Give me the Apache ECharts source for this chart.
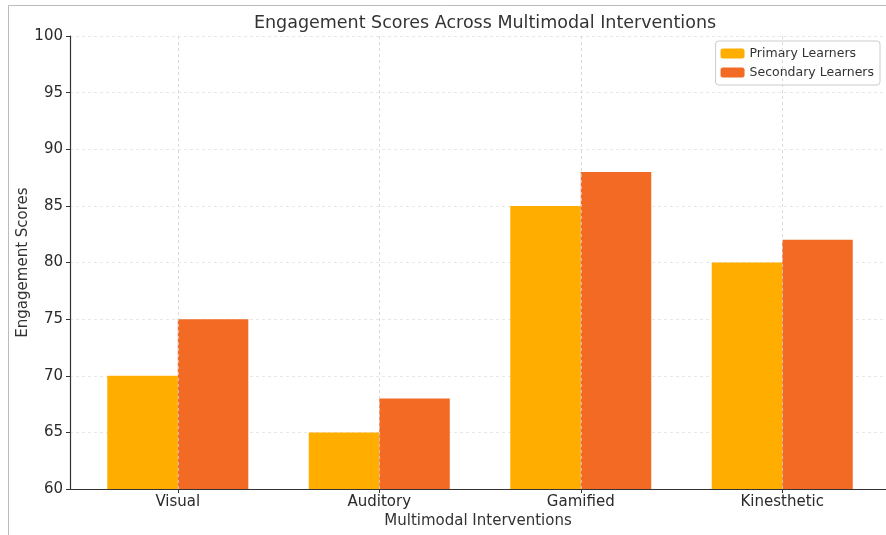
<!DOCTYPE html>
<html><head><meta charset="utf-8">
<script src="https://cdn.jsdelivr.net/npm/echarts@6/dist/echarts.min.js"></script>
<style>html,body{margin:0;padding:0;background:#fff}#c{width:886px;height:535px}</style>
</head><body><div id="c"></div>
<script>
const categories = ['Visual', 'Auditory', 'Gamified', 'Kinesthetic'];
const primaryLearners = [70, 65, 85, 80];
const secondaryLearners = [75, 68, 88, 82];
const yTicks = [60, 65, 70, 75, 80, 85, 90, 95, 100];

const FONT = 'DejaVu Sans';
const BAR_W = 0.35;
const chart = echarts.init(document.getElementById('c'));
const idx = categories.map((_, i) => i);

chart.setOption({
  animation: false,
  textStyle: { fontFamily: FONT },
  title: {
    text: 'Engagement Scores Across Multimodal Interventions',
    left: 480, top: 9, textAlign: 'center',
    textStyle: { fontFamily: FONT, fontSize: 17.5, fontWeight: 'normal', color: '#333' }
  },
  graphic: [{
    type: 'polyline', silent: true,
    shape: { points: [[8.5, 540], [8.5, 5.5], [890, 5.5]] },
    style: { stroke: '#bbb', lineWidth: 1, fill: null }
  }],
  legend: {
    right: 6, top: 41, orient: 'vertical', itemGap: 6,
    itemWidth: 24, itemHeight: 10,
    padding: [6, 6, 6, 5],
    borderColor: '#ccc', borderWidth: 1, borderRadius: 3,
    textStyle: { fontFamily: FONT, fontSize: 12.5, color: '#333' },
    data: ['Primary Learners', 'Secondary Learners']
  },
  grid: { left: 70, right: 0, top: 36, bottom: 46 },
  xAxis: {
    type: 'value', min: -0.535, max: 3.515,
    name: 'Multimodal Interventions', nameLocation: 'middle', nameGap: 25,
    nameMoveOverlap: false,
    nameTextStyle: { fontFamily: FONT, fontSize: 15, color: '#333' },
    axisLine: { show: true, onZero: false, lineStyle: { color: '#333', width: 1.2 } },
    axisTick: { show: true, customValues: idx, length: 4, lineStyle: { color: '#333' } },
    axisLabel: { customValues: idx, formatter: v => categories[Math.round(v)], fontFamily: FONT, fontSize: 15, color: '#2a2a2a', margin: 6 },
    splitLine: { show: false }
  },
  yAxis: {
    type: 'value', min: 60, max: 100, interval: 5,
    name: 'Engagement Scores', nameLocation: 'middle', nameGap: 39,
    nameMoveOverlap: false,
    nameTextStyle: { fontFamily: FONT, fontSize: 15, color: '#333' },
    axisLine: { show: true, onZero: false, lineStyle: { color: '#333', width: 1.2 } },
    axisTick: { show: true, length: 4, lineStyle: { color: '#333' } },
    axisLabel: { fontFamily: FONT, fontSize: 15, color: '#2a2a2a', margin: 7,
      formatter: v => yTicks.includes(v) ? String(v) : '' },
    splitLine: { show: true, lineStyle: { color: '#e2e2e2', type: [3, 3], width: 0.8 } }
  },
  series: [
    {
      name: 'Primary Learners', type: 'bar', barWidth: 70.5, barGap: '-100%',
      itemStyle: { color: '#FFAE00' },
      data: primaryLearners.map((v, i) => [i - BAR_W / 2, v]),
      markLine: {
        silent: true, symbol: 'none', label: { show: false },
        lineStyle: { color: '#d0d0d0', type: [3, 3], width: 0.8 },
        data: idx.map(i => ({ xAxis: i }))
      },
      z: 3
    },
    {
      name: 'Secondary Learners', type: 'bar', barWidth: 70.5, barGap: '-100%',
      itemStyle: { color: '#F26A23' },
      data: secondaryLearners.map((v, i) => [i + BAR_W / 2, v]),
      z: 3
    }
  ]
});
</script></body></html>
